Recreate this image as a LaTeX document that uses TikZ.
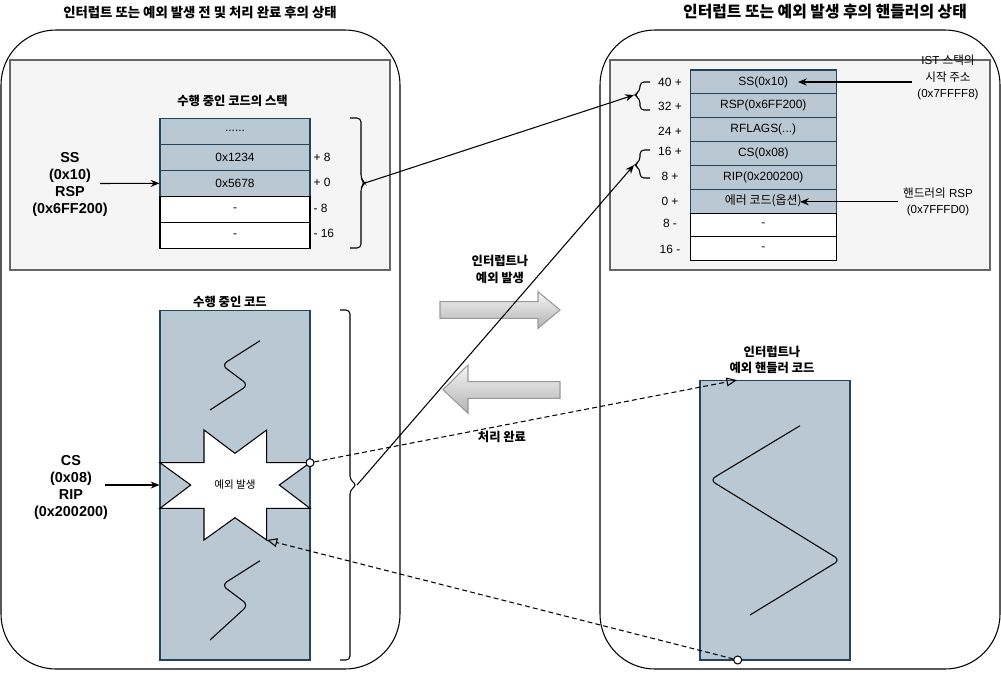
\documentclass[tikz,border=0pt]{standalone}
\usepackage{fontspec}
\setmainfont{Liberation Sans}
\newfontfamily\kr{Noto Sans CJK KR}
\usetikzlibrary{arrows.meta}
\definecolor{stkfill}{HTML}{BAC8D3}
\definecolor{stkline}{HTML}{23445D}
\definecolor{panelfill}{HTML}{F5F5F5}
\definecolor{panelline}{HTML}{666666}
\begin{document}
\begin{tikzpicture}[x=0.02cm, y=-0.02cm, line width=0.6pt,
    stateframe/.style={draw, rounded corners=1.1cm},
    stkpanel/.style={draw=panelline, fill=panelfill},
    stkcell/.style={draw=stkline, fill=stkfill, inner sep=0, minimum width=3cm, minimum height=0.52cm, font=\fontsize{6.8}{8}\selectfont},
    stkfree/.style={stkcell, draw=black, fill=white},
    hcell/.style={stkcell, minimum width=2.93cm, minimum height=0.477cm},
    hfree/.style={hcell, draw=black, fill=white},
    codebox/.style={draw=stkline, fill=stkfill, inner sep=0},
    offs/.style={inner sep=0, font=\fontsize{6.8}{8}\selectfont},
    brc/.style={rounded corners=0.08cm},
    squig/.style={rounded corners=0.12cm},
    krbold/.style={inner sep=0, align=center, font=\kr\bfseries\fontsize{7}{9.4}\selectfont},
    boldlbl/.style={inner sep=0, align=center, font=\bfseries\fontsize{8.2}{9.8}\selectfont},
    smalltxt/.style={inner sep=0.1cm, align=center, font=\fontsize{6.6}{9.4}\selectfont},
    blockarr/.style={draw=black!40, top color=black!4, bottom color=black!30},
    endpt/.style={circle, draw, fill=white, inner sep=0, minimum size=0.16cm},
    sline/.style={-{Stealth[length=5pt,width=4pt]}},
    dline/.style={dash pattern=on 2.8pt off 1.8pt, -{Triangle[open,length=6pt,width=5pt]}}]
\useasboundingbox (0,0) rectangle (1001,674);

% two states
\node[krbold, font=\kr\bfseries\fontsize{7.6}{9}\selectfont] (ltitle) at (200,12) {인터럽트 또는 예외 발생 전 및 처리 완료 후의 상태};
\node[krbold, font=\kr\bfseries\fontsize{9}{11}\selectfont] (rtitle) at (825,12) {인터럽트 또는 예외 발생 후의 핸들러의 상태};
\draw[stateframe] (1,30) rectangle (400,669);
\draw[stateframe] (600,30) rectangle (1000,669);
\draw[stkpanel] (10,60) rectangle (390,270);
\draw[stkpanel] (610,60) rectangle (990,270);

% stack of the running code
\node[krbold] (stktitle) at (232.5,100.7) {수행 중인 코드의 스택};
\foreach \i/\txt/\sty in {1/{......}/stkcell, 2/0x1234/stkcell, 3/0x5678/stkcell, 4/-/stkfree, 5/-/stkfree}
    \node[\sty] (ls\i) at (235,105.3+26*\i) {\txt};
\foreach \y/\txt in {157/+ 8, 182/+ 0, 208/- 8, 233/- 16}
    \node[offs, anchor=west] (lo\y) at (313,\y) {\txt};
\draw[brc] (350,118) -- (361,118) -- (361,179) -- (365,183) coordinate (stkbrace) -- (361,187) -- (361,248) -- (350,248);
\node[boldlbl] (ssrsp) at (70,184.5) {SS\\(0x10)\\RSP\\(0x6FF200)};
\coordinate (ssfrom) at (100,183.5);

% running code
\node[krbold] (codetitle) at (230,301.7) {수행 중인 코드};
\node[codebox, minimum width=3cm, minimum height=7cm] (code) at (235,485) {};
\draw[squig] (260,340.7) -- (221.7,365) -- (248.3,385) -- (210,410);
\draw[squig] (260,560.7) -- (221.7,585) -- (248.3,605) -- (210,640);
\draw[fill=white] (204,430) -- (235,453.3) -- (266.7,430) -- (266.7,462.7) -- (310,462.7) -- (279.3,485) -- (310,508.3)
    -- (266.7,508.3) -- (266.7,540) coordinate (excret) -- (235,517.7) -- (204,540) -- (204,508.3) -- (160,508.3)
    -- (190.7,485) -- (160,462.7) -- (204,462.7) -- cycle;
\node[inner sep=0, font=\kr\fontsize{6}{7}\selectfont] (exctxt) at (235,485) {예외 발생};
\draw[brc] (340,310) -- (350,310) -- (350,480) -- (357,485) coordinate (codebrace) -- (350,490) -- (350,660) -- (340,660);
\node[boldlbl] (csrip) at (71,487.5) {CS\\(0x08)\\RIP\\(0x200200)};
\coordinate (csfrom) at (105,485);

% handler stack
\foreach \i/\txt/\sty in {1/SS(0x10)/hcell, 2/RSP(0x6FF200)/hcell, 3/{RFLAGS(...)}/hcell, 4/CS(0x08)/hcell,
    5/RIP(0x200200)/hcell, 6/{{\kr 에러 코드(옵션)}}/hcell, 7/-/hfree, 8/-/hfree}
    \node[\sty] (rs\i) at (763.3,58.1+23.84*\i) {\txt};
\foreach \y/\txt in {82/40 +, 106/32 +, 131/24 +, 151/16 +, 176/8 +, 201/0 +, 223/8 -, 249/16 -}
    \node[offs] (ro\y) at (670,\y) {\txt};
\draw[brc] (650,82) -- (640,82) -- (640,91) -- (634,95) coordinate (hibrace) -- (640,99) -- (640,110) -- (650,110);
\draw[brc] (650,150) -- (640,150) -- (640,161) -- (634,165) coordinate (lobrace) -- (640,169) -- (640,178) -- (650,178);
\node[smalltxt] (istaddr) at (948,77.5) {IST {\kr 스택의}\\{\kr 시작 주소}\\(0x7FFFF8)};
\coordinate (istin) at (798,82);
\node[smalltxt, font=\fontsize{6.6}{9}\selectfont] (hrsp) at (938,202) {{\kr 핸드러의} RSP\\(0x7FFFD0)};
\coordinate (rspin) at (800,201.8);

% handler code
\node[krbold] (htitle) at (772,360) {인터럽트나\\예외 핸들러 코드};
\node[codebox, minimum width=3cm, minimum height=5.6cm] (hcode) at (775,520) {};
\coordinate (hentry) at (737,380);
\draw[squig] (800,425.7) -- (710,480) -- (840,560) -- (750,615);

% transitions
\node[krbold] (raise) at (500,269.5) {인터럽트나\\예외 발생};
\node[krbold] (done) at (502,437) {처리 완료};
\path[blockarr] (440,301.7) -- (538,301.7) -- (538,291.7) -- (560,310) -- (538,328.3) -- (538,318.3) -- (440,318.3) -- cycle;
\path[blockarr] (560,381.7) -- (468,381.7) -- (468,365) -- (443,389.7) -- (468,413.3) -- (468,398.3) -- (560,398.3) -- cycle;

% connectors
\draw[sline] (ssfrom) -- (ls3.west);
\draw[sline] (csfrom) -- (code.west);
\draw[sline] (istaddr.west |- istin) -- (istin);
\draw[sline] (hrsp.west |- rspin) -- (rspin);
\draw[sline] (stkbrace) -- (hibrace);
\draw[sline] (codebrace) -- (lobrace);
\node[endpt] (exc) at (310,462.7) {};
\node[endpt] (hexit) at (737.7,660) {};
\draw[dline] (exc) -- (hentry);
\draw[dline] (hexit) -- (excret);
\end{tikzpicture}
\end{document}
